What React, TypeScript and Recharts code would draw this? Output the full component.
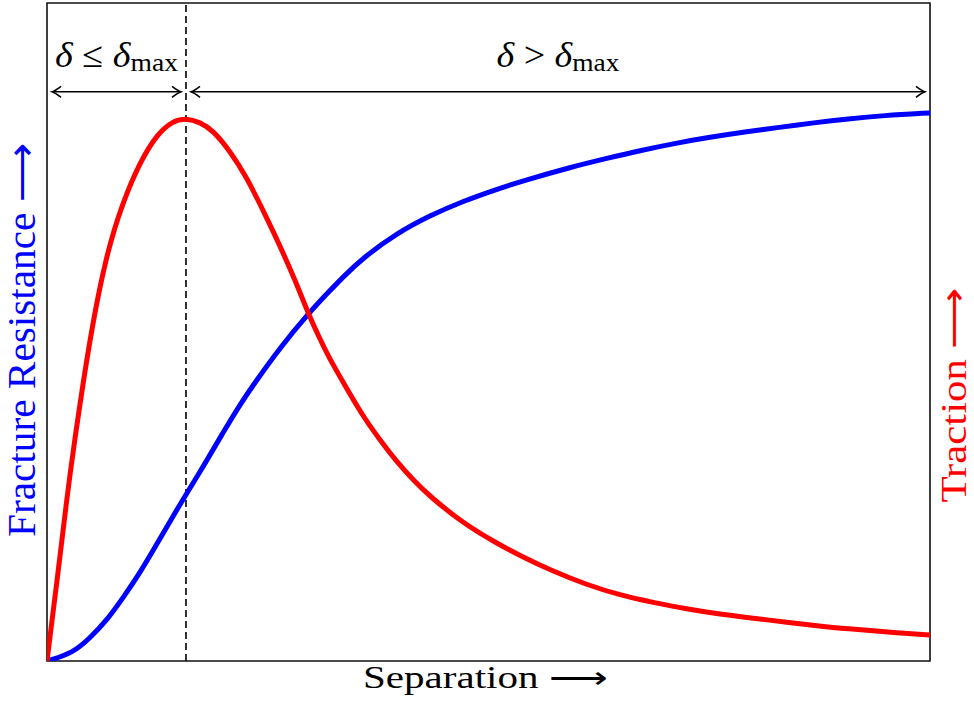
import { LineChart, Line, XAxis, YAxis, ReferenceLine, ReferenceArea, Customized } from 'recharts'

// separation (0..10), with traction / resistance in % of the plot height
const tractionX = [0, 0.125, 0.223, 0.298, 0.487, 0.675, 0.861, 1.053, 1.242, 1.427, 1.574, 1.733, 1.883, 2.072, 2.262, 2.45, 2.639, 2.828, 2.959, 3.092, 3.186, 3.356, 3.582, 3.771, 3.96, 4.148, 4.337, 4.715, 5.093, 5.357, 5.734, 6.112, 6.489, 6.866, 7.244, 7.622, 7.999, 8.377, 8.754, 9.071, 9.468, 10]
const tractionY = [0, 13.4, 24.5, 32.2, 49.4, 62.0, 69.8, 75.8, 80.0, 82.1, 82.5, 81.9, 80.6, 77.5, 73.5, 68.4, 63.1, 57.3, 52.8, 48.9, 46.3, 42.3, 37.1, 33.6, 30.3, 27.5, 25.0, 20.9, 17.9, 16.0, 13.6, 11.6, 10.0, 8.9, 7.9, 7.1, 6.5, 5.9, 5.3, 4.9, 4.45, 3.95]

const resistanceX = [0, 0.294, 0.487, 0.679, 0.861, 1.053, 1.246, 1.427, 1.574, 1.812, 1.993, 2.186, 2.375, 2.639, 2.959, 3.205, 3.356, 3.582, 3.96, 4.337, 4.715, 5.093, 5.394, 5.946, 6.342, 6.727, 7.123, 7.508, 7.905, 8.29, 8.686, 9.071, 9.468, 10]
const resistanceY = [0, 1.2, 3.5, 6.2, 9.6, 13.4, 17.8, 22.0, 25.3, 30.5, 34.7, 39.0, 42.7, 47.6, 52.8, 56.3, 58.4, 61.3, 65.0, 67.7, 69.9, 71.7, 73.0, 75.1, 76.4, 77.6, 78.7, 79.6, 80.4, 81.1, 81.8, 82.4, 82.9, 83.3]

const deltaMax = 1.574
const arrowY = 86.5
const leftSpan = [0.057, 1.518]
const rightSpan = [1.631, 9.943]

const traction = tractionX.map((x, i) => ({ x, y: tractionY[i] }))
const resistance = resistanceX.map((x, i) => ({ x, y: resistanceY[i] }))

const FONT = '"Liberation Serif", serif'

const head = (x: number, y: number, dir: number) =>
  `M ${x - dir * 9} ${y - 5.5} Q ${x - dir * 3} ${y - 1} ${x} ${y} Q ${x - dir * 3} ${y + 1} ${x - dir * 9} ${y + 5.5}`

const DoubleArrow = (props: any) => {
  const { x1, y1, x2 } = props
  return (
    <g fill='none' stroke='#000' strokeWidth={1.5}>
      <line x1={x1} y1={y1} x2={x2} y2={y1} />
      <path d={head(x1, y1, -1)} />
      <path d={head(x2, y1, 1)} />
    </g>
  )
}

const deltaLabel = (op: string) => (props: any) => {
  const { viewBox } = props
  const cx = viewBox.x + viewBox.width / 2
  return (
    <text
      x={cx}
      y={viewBox.y - 25}
      textAnchor='middle'
      fontFamily={FONT}
      fontSize={36}
      fill='#000'
      textLength={123}
      lengthAdjust='spacingAndGlyphs'
    >
      <tspan fontStyle='italic'>δ</tspan>
      <tspan>{` ${op} `}</tspan>
      <tspan fontStyle='italic'>δ</tspan>
      <tspan fontSize={26} dy={4}>max</tspan>
    </text>
  )
}

const Titles = () => (
  <g fontFamily={FONT}>
    <text x={485} y={688} textAnchor='middle' fontSize={31} fill='#000' textLength={244} lengthAdjust='spacingAndGlyphs'>
      Separation ⟶
    </text>
    <text
      transform='translate(35,340) rotate(-90)'
      textAnchor='middle'
      fontSize={39}
      fill='#0000ff'
      textLength={394}
      lengthAdjust='spacingAndGlyphs'
    >
      Fracture Resistance ⟶
    </text>
    <text
      transform='translate(966,395) rotate(-90)'
      textAnchor='middle'
      fontSize={35}
      fill='#ff0000'
      textLength={215}
      lengthAdjust='spacingAndGlyphs'
    >
      Traction ⟶
    </text>
  </g>
)

export default function App() {
  return (
    <div style={{ position: 'absolute', left: 0, top: 0 }}>
      <LineChart width={974} height={707} margin={{ top: 3, right: 44, bottom: 46, left: 47 }}>
        <XAxis hide type='number' dataKey='x' domain={[0, 10]} allowDataOverflow />
        <YAxis hide type='number' domain={[0, 100]} allowDataOverflow />
        <ReferenceArea x1={0} x2={10} y1={0} y2={100} fill='none' stroke='#111' strokeWidth={1.6} fillOpacity={0} />
        <ReferenceLine x={deltaMax} stroke='#000' strokeWidth={1.6} strokeDasharray='7 4' />
        <ReferenceLine
          segment={[{ x: leftSpan[0], y: arrowY }, { x: leftSpan[1], y: arrowY }]}
          shape={DoubleArrow}
          label={{ content: deltaLabel('≤') }}
        />
        <ReferenceLine
          segment={[{ x: rightSpan[0], y: arrowY }, { x: rightSpan[1], y: arrowY }]}
          shape={DoubleArrow}
          label={{ content: deltaLabel('>') }}
        />
        <Line data={resistance} dataKey='y' type='basis' stroke='#0000ff' strokeWidth={5} dot={false} isAnimationActive={false} />
        <Line data={traction} dataKey='y' type='basis' stroke='#ff0000' strokeWidth={5} dot={false} isAnimationActive={false} />
        <Customized component={Titles} />
      </LineChart>
    </div>
  )
}
